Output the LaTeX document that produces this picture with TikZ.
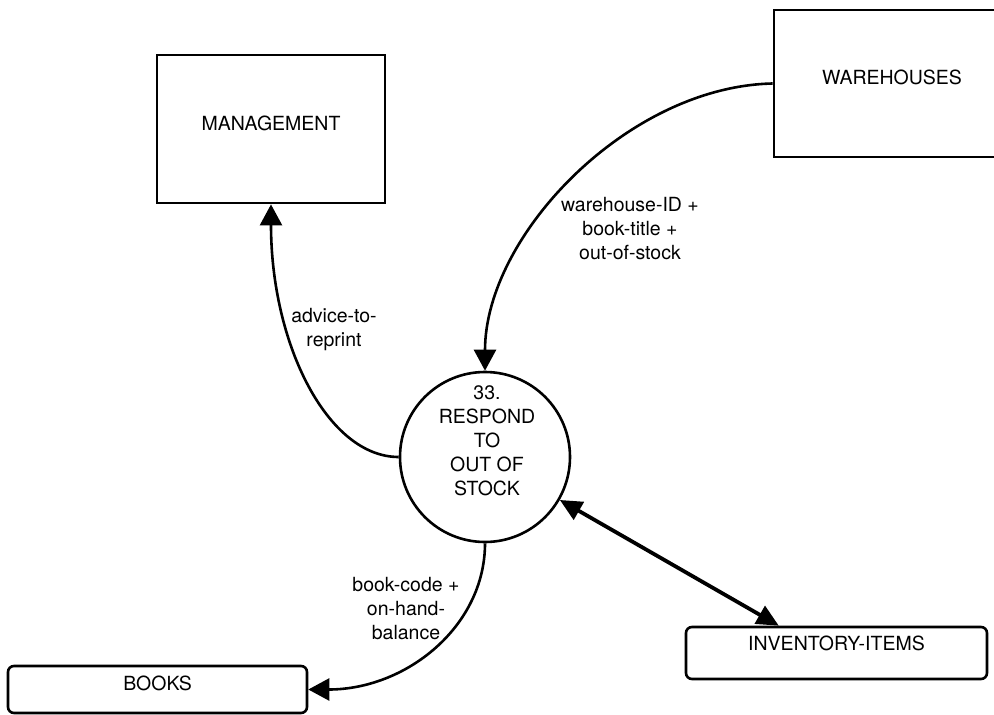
\documentclass[tikz,border=0pt]{standalone}
\usepackage{fontspec}
\setmainfont{TeX Gyre Heros}
\usetikzlibrary{arrows.meta,calc}
\begin{document}
\begin{tikzpicture}[x=1pt,y=-1pt,
  every node/.style={font=\fontsize{19.5}{24}\selectfont},
  entity/.style={draw, line width=2.8pt, rectangle, inner sep=0pt},
  store/.style={draw, line width=2.6pt, rectangle, rounded corners=6pt, inner sep=0pt},
  proc/.style={draw, line width=2.6pt, circle, inner sep=0pt, minimum size=170pt},
  flow/.style={line width=2.6pt, -{Triangle[length=21pt,width=22pt]}},
  bothflow/.style={line width=3.8pt, {Triangle[length=22pt,width=20pt]}-{Triangle[length=22pt,width=20pt]}},
  lbl/.style={align=center, inner sep=0pt}
]
\clip (0,0) rectangle (994,715);
\node[entity, minimum width=228pt, minimum height=148pt, text depth=12pt] (mg) at (271,129) {MANAGEMENT};
\node[entity, minimum width=236pt, minimum height=147pt, text depth=12pt] (wh) at (892,83.5) {WAREHOUSES};
\node[store, minimum width=299pt, minimum height=47pt, text depth=12pt] (bk) at (157.5,689.5) {BOOKS};
\node[store, minimum width=301pt, minimum height=52pt, text depth=20pt] (inv) at (836.5,653) {INVENTORY-ITEMS};
\node[proc] (p) at (485,457) {};
\node[lbl] (ptext) at (487,441) {33.\\RESPOND\\TO\\OUT OF\\STOCK};
\coordinate (invtop) at ($(inv.north west)!0.31!(inv.north east)$);

\draw[flow] (wh.west) .. controls +(-145,3) and +(0,-135) .. (p.north);
\draw[flow] (p.west) .. controls +(-71,0) and +(0,140) .. (mg.south);
\draw[flow] (p.south) .. controls +(0,83) and +(98,0) .. (bk.east);
\draw[bothflow] (p) -- (invtop);

\node[lbl] (l1) at (334,330) {advice-to-\\reprint};
\node[lbl] (l2) at (630,229) {warehouse-ID +\\book-title +\\out-of-stock};
\node[lbl] (l3) at (406,609) {book-code +\\on-hand-\\balance};
\end{tikzpicture}
\end{document}
